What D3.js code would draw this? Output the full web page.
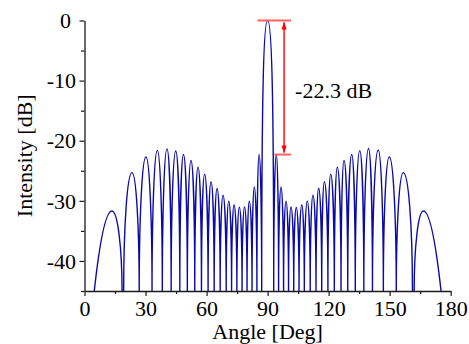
<!DOCTYPE html>
<html><head><meta charset="utf-8">
<script src="https://cdn.jsdelivr.net/npm/d3@7"></script>
<style>
html,body{margin:0;padding:0;background:#fff;}
svg{display:block;}
text{font-family:"Liberation Serif",Tinos,"Times New Roman",Times,"DejaVu Serif",serif;fill:#000;}
</style></head><body>
<svg id="chart" width="469" height="344"></svg>
<script>
// ---- data ----
const peakAngles = [13.5, 23.35, 30.2, 35.8, 40.55, 44.85, 48.65, 52.35, 55.8, 59.05, 62.2, 65.15, 68.1, 70.9, 73.5, 76.1, 78.65, 81.0, 83.45, 85.8, 90.0, 94.3, 96.6, 99.05, 101.5, 104.1, 106.8, 109.5, 112.3, 115.1, 117.9, 121.0, 124.25, 127.55, 131.35, 135.3, 139.6, 144.35, 149.8, 156.7, 166.55];
const peakDb = [-31.7, -25.3, -22.7, -21.6, -21.35, -21.7, -22.3, -23.3, -24.4, -25.55, -26.8, -27.95, -29.05, -30.05, -30.7, -31.05, -31.0, -30.05, -27.7, -22.3, 0, -22.3, -27.7, -30.05, -31.0, -31.1, -30.7, -30.05, -29.05, -27.9, -26.8, -25.55, -24.4, -23.3, -22.3, -21.65, -21.3, -21.55, -22.7, -25.3, -31.7];
const lobeFrom = [4.8, 19.25, 26.9, 33.2, 38.25, 42.6, 46.85, 50.55, 54.2, 57.5, 60.75, 63.75, 66.7, 69.65, 72.3, 74.9, 77.45, 79.9, 82.35, 84.75, 87.1, 93.0, 95.4, 97.85, 100.3, 102.85, 105.45, 108.05, 110.95, 113.8, 116.6, 119.65, 122.8, 126.1, 129.4, 133.1, 137.3, 141.55, 146.9, 153.25, 162.05];
const lobeTo = [18.45, 26.9, 33.2, 38.25, 42.6, 46.85, 50.55, 54.2, 57.5, 60.75, 63.75, 66.7, 69.65, 72.3, 74.9, 77.45, 79.9, 82.35, 84.75, 87.1, 93.0, 95.4, 97.85, 100.3, 102.85, 105.45, 108.05, 110.95, 113.8, 116.6, 119.65, 122.8, 126.1, 129.4, 133.1, 137.3, 141.55, 146.9, 153.25, 161.2, 175.25];
const xTicks = [0, 30, 60, 90, 120, 150, 180];
const xMinorTicks = [15, 45, 75, 105, 135, 165];
const yTicks = [0, -10, -20, -30, -40];
const yMinorTicks = [-5, -15, -25, -35, -45];
const annotDb = [0, -22.3];
const annotLabel = "-22.3 dB";
const xTitle = "Angle [Deg]";
const yTitle = "Intensity [dB]";

// ---- layout ----
const FONT = '"Liberation Serif",Tinos,"Times New Roman",Times,"DejaVu Serif",serif';
const svg = d3.select("#chart");
const x = d3.scaleLinear().domain([0, 180]).range([84.5, 450.7]);
const y = d3.scaleLinear().domain([-45, 0]).range([291, 20.5]);
const FS = 22;

svg.append("defs").append("clipPath").attr("id", "plotclip")
  .append("rect").attr("x", x(0)).attr("y", y(0) - 2).attr("width", x(180) - x(0)).attr("height", y(-45) - y(0) + 2);

// ---- curve ----
const floorDb = -45;
const p = d3.path();
const n = peakAngles.length;
const mainIdx = peakDb.indexOf(d3.max(peakDb));
for (let i = 0; i < n; i++) {
  const xs = x(lobeFrom[i]), xe = x(lobeTo[i]), xp = x(peakAngles[i]);
  const yf = y(floorDb), yp = y(peakDb[i]);
  const k = i === mainIdx ? 0.7 : 0.5523;
  p.moveTo(xs, yf);
  if (i === 0) {
    p.quadraticCurveTo((xs + xp) / 2, yp, xp, yp);
  } else {
    p.bezierCurveTo(xs, yf + k * (yp - yf), xp - k * (xp - xs), yp, xp, yp);
  }
  if (i === n - 1) {
    p.quadraticCurveTo((xp + xe) / 2, yp, xe, yf);
  } else {
    p.bezierCurveTo(xp + k * (xe - xp), yp, xe, yf + k * (yp - yf), xe, yf);
  }
}
svg.append("path").attr("d", p.toString()).attr("clip-path", "url(#plotclip)")
  .attr("fill", "none").attr("stroke", "#0a0aa8").attr("stroke-width", 1.4).attr("stroke-linejoin", "round");

// ---- axes ----
function styleAxis(g) {
  g.attr("font-family", FONT);
  g.selectAll("path.domain").attr("stroke", "#1a1a1a").attr("stroke-width", 1.3);
  g.selectAll(".tick line").attr("stroke", "#1a1a1a").attr("stroke-width", 1.2);
  g.selectAll("text").style("font-family", FONT).attr("font-size", FS).attr("fill", "#000");
}
const gxMinor = svg.append("g").attr("transform", `translate(0,${y(-45)})`)
  .call(d3.axisBottom(x).tickValues(xMinorTicks).tickSize(3).tickSizeOuter(0).tickFormat(""));
gxMinor.select("path.domain").remove();
styleAxis(gxMinor);
const gx = svg.append("g").attr("transform", `translate(0,${y(-45)})`)
  .call(d3.axisBottom(x).tickValues(xTicks).tickSize(5).tickSizeOuter(0).tickPadding(4).tickFormat(d3.format("d")));
styleAxis(gx);

const gyMinor = svg.append("g").attr("transform", `translate(${x(0)},0)`)
  .call(d3.axisLeft(y).tickValues(yMinorTicks).tickSize(3.5).tickSizeOuter(0).tickFormat(""));
gyMinor.select("path.domain").remove();
styleAxis(gyMinor);
const gy = svg.append("g").attr("transform", `translate(${x(0)},0)`)
  .call(d3.axisLeft(y).tickValues(yTicks).tickSize(5).tickSizeOuter(0).tickPadding(3.5).tickFormat(d => d3.format("d")(d).replace("−", "-")));
styleAxis(gy);
gy.selectAll(".tick text").attr("dy", "0.33em").filter(d => d === 0).attr("dx", -5);

// ---- titles ----
svg.append("text").attr("x", (x(0) + x(180)) / 2).attr("y", 339).attr("text-anchor", "middle")
  .style("font-family", FONT).attr("font-size", FS).text(xTitle);
svg.append("text").attr("transform", `translate(31.5,${(y(0) + y(-45)) / 2}) rotate(-90)`)
  .attr("text-anchor", "middle").style("font-family", FONT).attr("font-size", FS).text(yTitle);

// ---- annotation ----
const red = "#ff0000";
const arrowX = x(98.1);
svg.append("line").attr("x1", x(85.0)).attr("x2", x(101.5)).attr("y1", y(annotDb[0])).attr("y2", y(annotDb[0]))
  .attr("stroke", "#ff6060").attr("stroke-width", 2);
svg.append("line").attr("x1", x(93.3)).attr("x2", x(101.5)).attr("y1", y(annotDb[1])).attr("y2", y(annotDb[1]))
  .attr("stroke", "#ff6060").attr("stroke-width", 2);
svg.append("line").attr("x1", arrowX).attr("x2", arrowX).attr("y1", y(annotDb[0]) + 2).attr("y2", y(annotDb[1]) - 2)
  .attr("stroke", red).attr("stroke-width", 1.4);
const ah = 8, aw = 2.5;
const y0a = y(annotDb[0]), y1a = y(annotDb[1]);
svg.append("path").attr("d", `M${arrowX},${y0a + 1}L${arrowX - aw},${y0a + 1 + ah}L${arrowX + aw},${y0a + 1 + ah}Z`).attr("fill", red);
svg.append("path").attr("d", `M${arrowX},${y1a - 1}L${arrowX - aw},${y1a - 1 - ah}L${arrowX + aw},${y1a - 1 - ah}Z`).attr("fill", red);
svg.append("text").attr("x", arrowX + 11).attr("y", (y0a + y1a) / 2 + 10.5)
  .style("font-family", FONT).attr("font-size", FS).text(annotLabel);
</script>
</body></html>
